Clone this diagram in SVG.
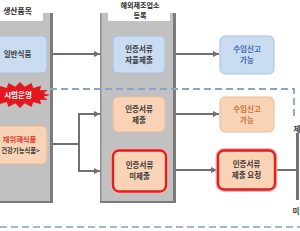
<svg xmlns="http://www.w3.org/2000/svg" width="300" height="231" viewBox="0 0 300 231">
<style>
text{font-family:"Noto Sans CJK KR","Noto Sans",sans-serif;font-weight:bold;font-size:7.5px;text-anchor:middle;fill:#3a3a3a}
.hdr{font-size:7.8px;fill:#2a2a2a}
.hdr2{font-size:7.1px;fill:#2a2a2a}
.blue{fill:#c9dcf1;stroke:#a9c2df;stroke-width:1}
.orange{fill:#f9d3b6;stroke:#e7bb98;stroke-width:1}
.redb{fill:#f9d3b6;stroke:#d92323;stroke-width:2.4}
.glow{fill:none;stroke:#f6b3b3;stroke-width:5}
.bt{fill:#3d6db3}
.ot{fill:#c9743c}
.conn{fill:none;stroke:#707070;stroke-width:2}
.dash{fill:none;stroke:#86a6c8;stroke-width:1.8;stroke-dasharray:7 4}
.dash2{fill:none;stroke:#9bb8d6;stroke-width:1.8;stroke-dasharray:7 4}
.panel{fill:#c1c1c1}
.edge{fill:#7b7b7b}
</style>
<defs>
<marker id="ah" viewBox="0 0 6 6" refX="6" refY="3" markerWidth="6" markerHeight="6" markerUnits="userSpaceOnUse" orient="auto">
<path d="M0 0 L6 3 L0 6 Z" fill="#707070"/>
</marker>
</defs>
<rect width="300" height="231" fill="#fff"/>

<g id="panel-left">
<rect class="panel" x="-6" y="13" width="59" height="190" rx="2"/>
<rect class="edge" x="50" y="13" width="3" height="190"/>
<rect class="edge" x="-6" y="201" width="59" height="2"/>
<rect x="-6" y="0" width="49" height="21" fill="#fff"/>
<text class="hdr" x="17.5" y="14">생산품목</text>
</g>

<g id="panel-mid">
<rect class="panel" x="100" y="13" width="76" height="190" rx="2"/>
<rect x="100" y="13" width="1.5" height="190" fill="#8e8e8e"/>
<rect class="edge" x="173" y="13" width="3" height="190"/>
<rect class="edge" x="100" y="201" width="76" height="2"/>
<rect x="108" y="0" width="62" height="21" fill="#fff"/>
<text class="hdr2" x="140" y="7.8">해외제조업소</text>
<text class="hdr2" x="140" y="18">등록</text>
</g>

<g id="connectors">
<path class="dash" d="M50 89 H294 V116"/>
<path class="dash2" d="M0 227 H300"/>
<path class="conn" d="M53 54 H100" marker-end="url(#ah)"/>
<path class="conn" d="M176 54 H219" marker-end="url(#ah)"/>
<path class="conn" d="M53 144 H79"/>
<path class="conn" d="M79 145 V114 H100" marker-end="url(#ah)"/>
<path class="conn" d="M79 143 V171 H100" marker-end="url(#ah)"/>
<path class="conn" d="M176 114 H219" marker-end="url(#ah)"/>
<path class="conn" d="M176 170 H217" marker-end="url(#ah)"/>
<path class="conn" d="M275 170 H297"/>
<path d="M297.5 133 V200" fill="none" stroke="#737373" stroke-width="3"/>
</g>

<g id="node-general">
<rect class="blue" x="-6" y="36" width="53" height="37" rx="5"/>
<text x="17.5" y="57">일반식품</text>
</g>

<g id="node-pilot">
<polygon points="50,95 43.5,96.7 47.7,100 39.9,99.7 41.2,104.2 33.3,102.1 31.5,107 24.7,103.3 20,108 15.3,103.3 8.5,107 6.7,102.1 -1.2,104.2 0.1,99.7 -7.7,100 -3.5,96.7 -10,95 -3.5,93.3 -7.7,90 0.1,90.3 -1.2,85.8 6.7,87.9 8.5,83 15.3,86.7 20,82 24.7,86.7 31.5,83 33.3,87.9 41.2,85.8 39.9,90.3 47.7,90 43.5,93.3" fill="#e4161e"/>
<text x="18" y="98" style="fill:#fff">시범운영</text>
</g>

<g id="node-hazard">
<rect class="orange" x="-6" y="126" width="53" height="38" rx="5"/>
<text x="19.5" y="142" style="fill:#e03a2e;font-size:7.3px">재위해식품</text>
<text x="20.5" y="153" style="font-size:6.3px">건강기능식품&gt;</text>
</g>

<g id="node-self">
<rect class="blue" x="113" y="36" width="52" height="37" rx="5"/>
<text x="139" y="51.7">인증서류</text>
<text x="139" y="62.7">자율제출</text>
</g>

<g id="node-submit">
<rect class="orange" x="113" y="97" width="52" height="35" rx="5"/>
<text x="139" y="111.7">인증서류</text>
<text x="139" y="122.7">제출</text>
</g>

<g id="node-nosubmit">
<rect class="glow" x="113" y="150.5" width="53" height="41" rx="6"/>
<rect class="redb" x="113" y="150.5" width="53" height="41" rx="6"/>
<text x="139.5" y="167.5">인증서류</text>
<text x="139.5" y="178.5">미제출</text>
</g>

<g id="node-import1">
<rect class="blue" x="220" y="36" width="54" height="38" rx="5"/>
<text class="bt" x="247" y="51.7">수입신고</text>
<text class="bt" x="247" y="62.7">가능</text>
</g>

<g id="node-import2">
<rect class="orange" x="220" y="97" width="54" height="35" rx="5"/>
<text class="ot" x="247" y="111.7">수입신고</text>
<text class="ot" x="247" y="122.7">가능</text>
</g>

<g id="node-request">
<rect class="glow" x="218" y="150.5" width="57" height="39" rx="6"/>
<rect class="redb" x="218" y="150.5" width="57" height="39" rx="6"/>
<text x="246.5" y="167">인증서류</text>
<text x="246.5" y="178">제출 요청</text>
</g>

<g id="labels-right">
<text x="297" y="131.5">제</text>
<text x="296" y="213.5">미</text>
</g>
</svg>
